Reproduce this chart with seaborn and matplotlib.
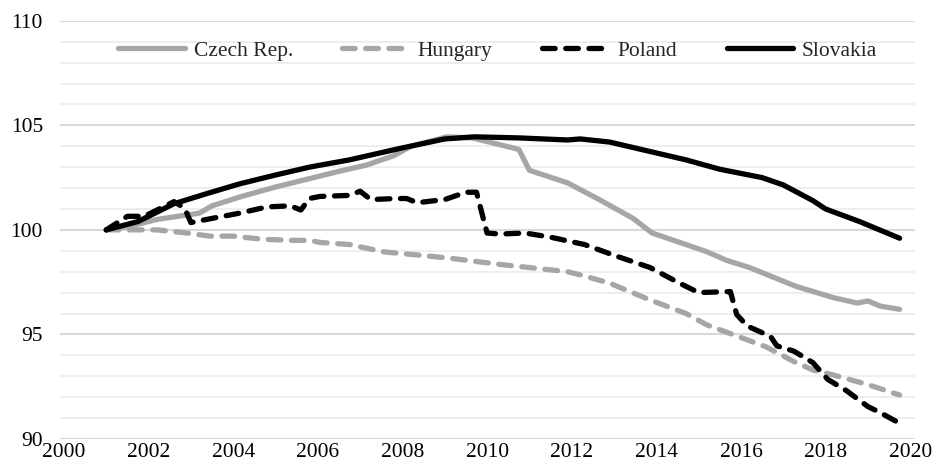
import pandas as pd
import matplotlib
matplotlib.use("Agg")
import matplotlib.pyplot as plt
import seaborn as sns
from matplotlib.ticker import MultipleLocator

# values (index, 2001 = 100)
czech_x = [2001.0, 2001.6, 2002.2, 2003.2, 2003.5, 2004.2, 2005.0, 2005.6, 2006.5, 2007.15,
           2007.8, 2008.2, 2009.05, 2009.65, 2010.25, 2010.75, 2011.0, 2011.9, 2012.65, 2013.45,
           2013.9, 2014.7, 2015.2, 2015.65, 2016.2, 2017.3, 2018.2, 2018.75, 2019.0, 2019.3, 2019.75]
czech_y = [100.0, 100.2, 100.5, 100.8, 101.15, 101.6, 102.05, 102.35, 102.8, 103.1,
           103.55, 104.0, 104.45, 104.4, 104.1, 103.85, 102.85, 102.25, 101.45, 100.55,
           99.85, 99.3, 98.95, 98.55, 98.2, 97.3, 96.75, 96.5, 96.6, 96.35, 96.2]

hungary_x = [2001.0, 2001.6, 2002.2, 2002.9, 2003.45, 2004.0, 2004.7, 2005.35, 2005.8, 2006.05,
             2006.75, 2007.55, 2008.35, 2009.1, 2010.3, 2011.9, 2012.2, 2012.9, 2013.85, 2014.7,
             2015.2, 2015.8, 2016.6, 2017.25, 2017.7, 2018.2, 2019.0, 2019.75]
hungary_y = [100.0, 100.0, 100.0, 99.85, 99.7, 99.7, 99.55, 99.5, 99.5, 99.4,
             99.3, 98.95, 98.8, 98.65, 98.35, 98.0, 97.85, 97.45, 96.65, 96.0,
             95.45, 95.0, 94.4, 93.7, 93.3, 93.05, 92.6, 92.1]

poland_x = [2001.0, 2001.5, 2001.9, 2002.6, 2002.85, 2003.0, 2003.5, 2004.15, 2004.8, 2005.35,
            2005.6, 2005.8, 2006.05, 2006.75, 2007.0, 2007.25, 2007.85, 2008.1, 2008.35, 2009.0,
            2009.5, 2009.75, 2010.0, 2010.3, 2010.9, 2011.5, 2012.3, 2013.05, 2013.85, 2014.55,
            2015.0, 2015.75, 2015.9, 2016.15, 2016.7, 2016.85, 2017.25, 2017.7, 2018.05, 2018.5,
            2019.0, 2019.3, 2019.75]
poland_y = [100.0, 100.65, 100.65, 101.35, 101.05, 100.35, 100.55, 100.8, 101.1, 101.15,
            100.95, 101.5, 101.6, 101.65, 101.85, 101.45, 101.5, 101.5, 101.3, 101.45,
            101.8, 101.8, 99.85, 99.8, 99.85, 99.65, 99.3, 98.75, 98.2, 97.45,
            97.0, 97.05, 95.95, 95.4, 94.9, 94.45, 94.2, 93.65, 92.85, 92.3,
            91.55, 91.25, 90.75]

slovakia_x = [2001.0, 2001.75, 2002.6, 2003.4, 2004.15, 2004.95, 2005.8, 2006.75, 2007.95, 2009.0,
              2009.7, 2010.75, 2011.9, 2012.2, 2012.9, 2013.85, 2014.7, 2015.5, 2016.5, 2017.0,
              2017.7, 2018.0, 2018.8, 2019.75]
slovakia_y = [100.0, 100.4, 101.25, 101.75, 102.2, 102.6, 103.0, 103.35, 103.9, 104.35,
              104.45, 104.4, 104.3, 104.35, 104.2, 103.75, 103.35, 102.9, 102.5, 102.15,
              101.4, 101.0, 100.4, 99.6]

series = ["Czech Rep.", "Hungary", "Poland", "Slovakia"]
colors = ["#A6A6A6", "#A6A6A6", "#000000", "#000000"]
dashed = [False, True, True, False]


def build_frame():
    parts = []
    for name, xs, ys in zip(series,
                            [czech_x, hungary_x, poland_x, slovakia_x],
                            [czech_y, hungary_y, poland_y, slovakia_y]):
        parts.append(pd.DataFrame({"year": xs, "value": ys, "country": name}))
    return pd.concat(parts, ignore_index=True)


def main():
    df = build_frame()

    sns.set_style("white")
    plt.rcParams["font.family"] = ["Liberation Serif", "DejaVu Serif"]

    fig = plt.figure(figsize=(9.33, 4.73), dpi=100)
    ax = fig.add_axes([0.064, 0.072, 0.917, 0.884])

    for name, col, dsh in zip(series, colors, dashed):
        sub = df[df["country"] == name]
        ls = (0, (2.4, 2.0)) if dsh else "-"
        sns.lineplot(data=sub, x="year", y="value", ax=ax, color=col, linewidth=3.8,
                     linestyle=ls, label=name, solid_capstyle="round",
                     dash_capstyle="round", solid_joinstyle="round")

    ax.set_xlim(1999.9, 2020.12)
    ax.set_ylim(90, 110)
    ax.xaxis.set_major_locator(MultipleLocator(2))
    ax.yaxis.set_major_locator(MultipleLocator(5))
    ax.yaxis.set_minor_locator(MultipleLocator(1))
    ax.grid(axis="y", which="major", color="#D9D9D9", linewidth=1.5, zorder=0)
    ax.grid(axis="y", which="minor", color="#EDEDED", linewidth=1.3, zorder=0)
    ax.grid(axis="x", visible=False)
    ax.set_axisbelow(True)
    for s in ax.spines.values():
        s.set_visible(False)
    ax.tick_params(axis="both", which="both", length=0, labelsize=15.5, colors="black")
    ax.tick_params(axis="y", pad=12)
    ax.tick_params(axis="x", pad=3)
    ax.set_xlabel("")
    ax.set_ylabel("")

    ax.legend(loc="center", bbox_to_anchor=(0.512, 0.928), ncol=4, frameon=False,
              fontsize=15.5, handlelength=3.1, handletextpad=0.4, columnspacing=2.3)

    fig.savefig("out.png", dpi=100)


if __name__ == "__main__":
    main()
